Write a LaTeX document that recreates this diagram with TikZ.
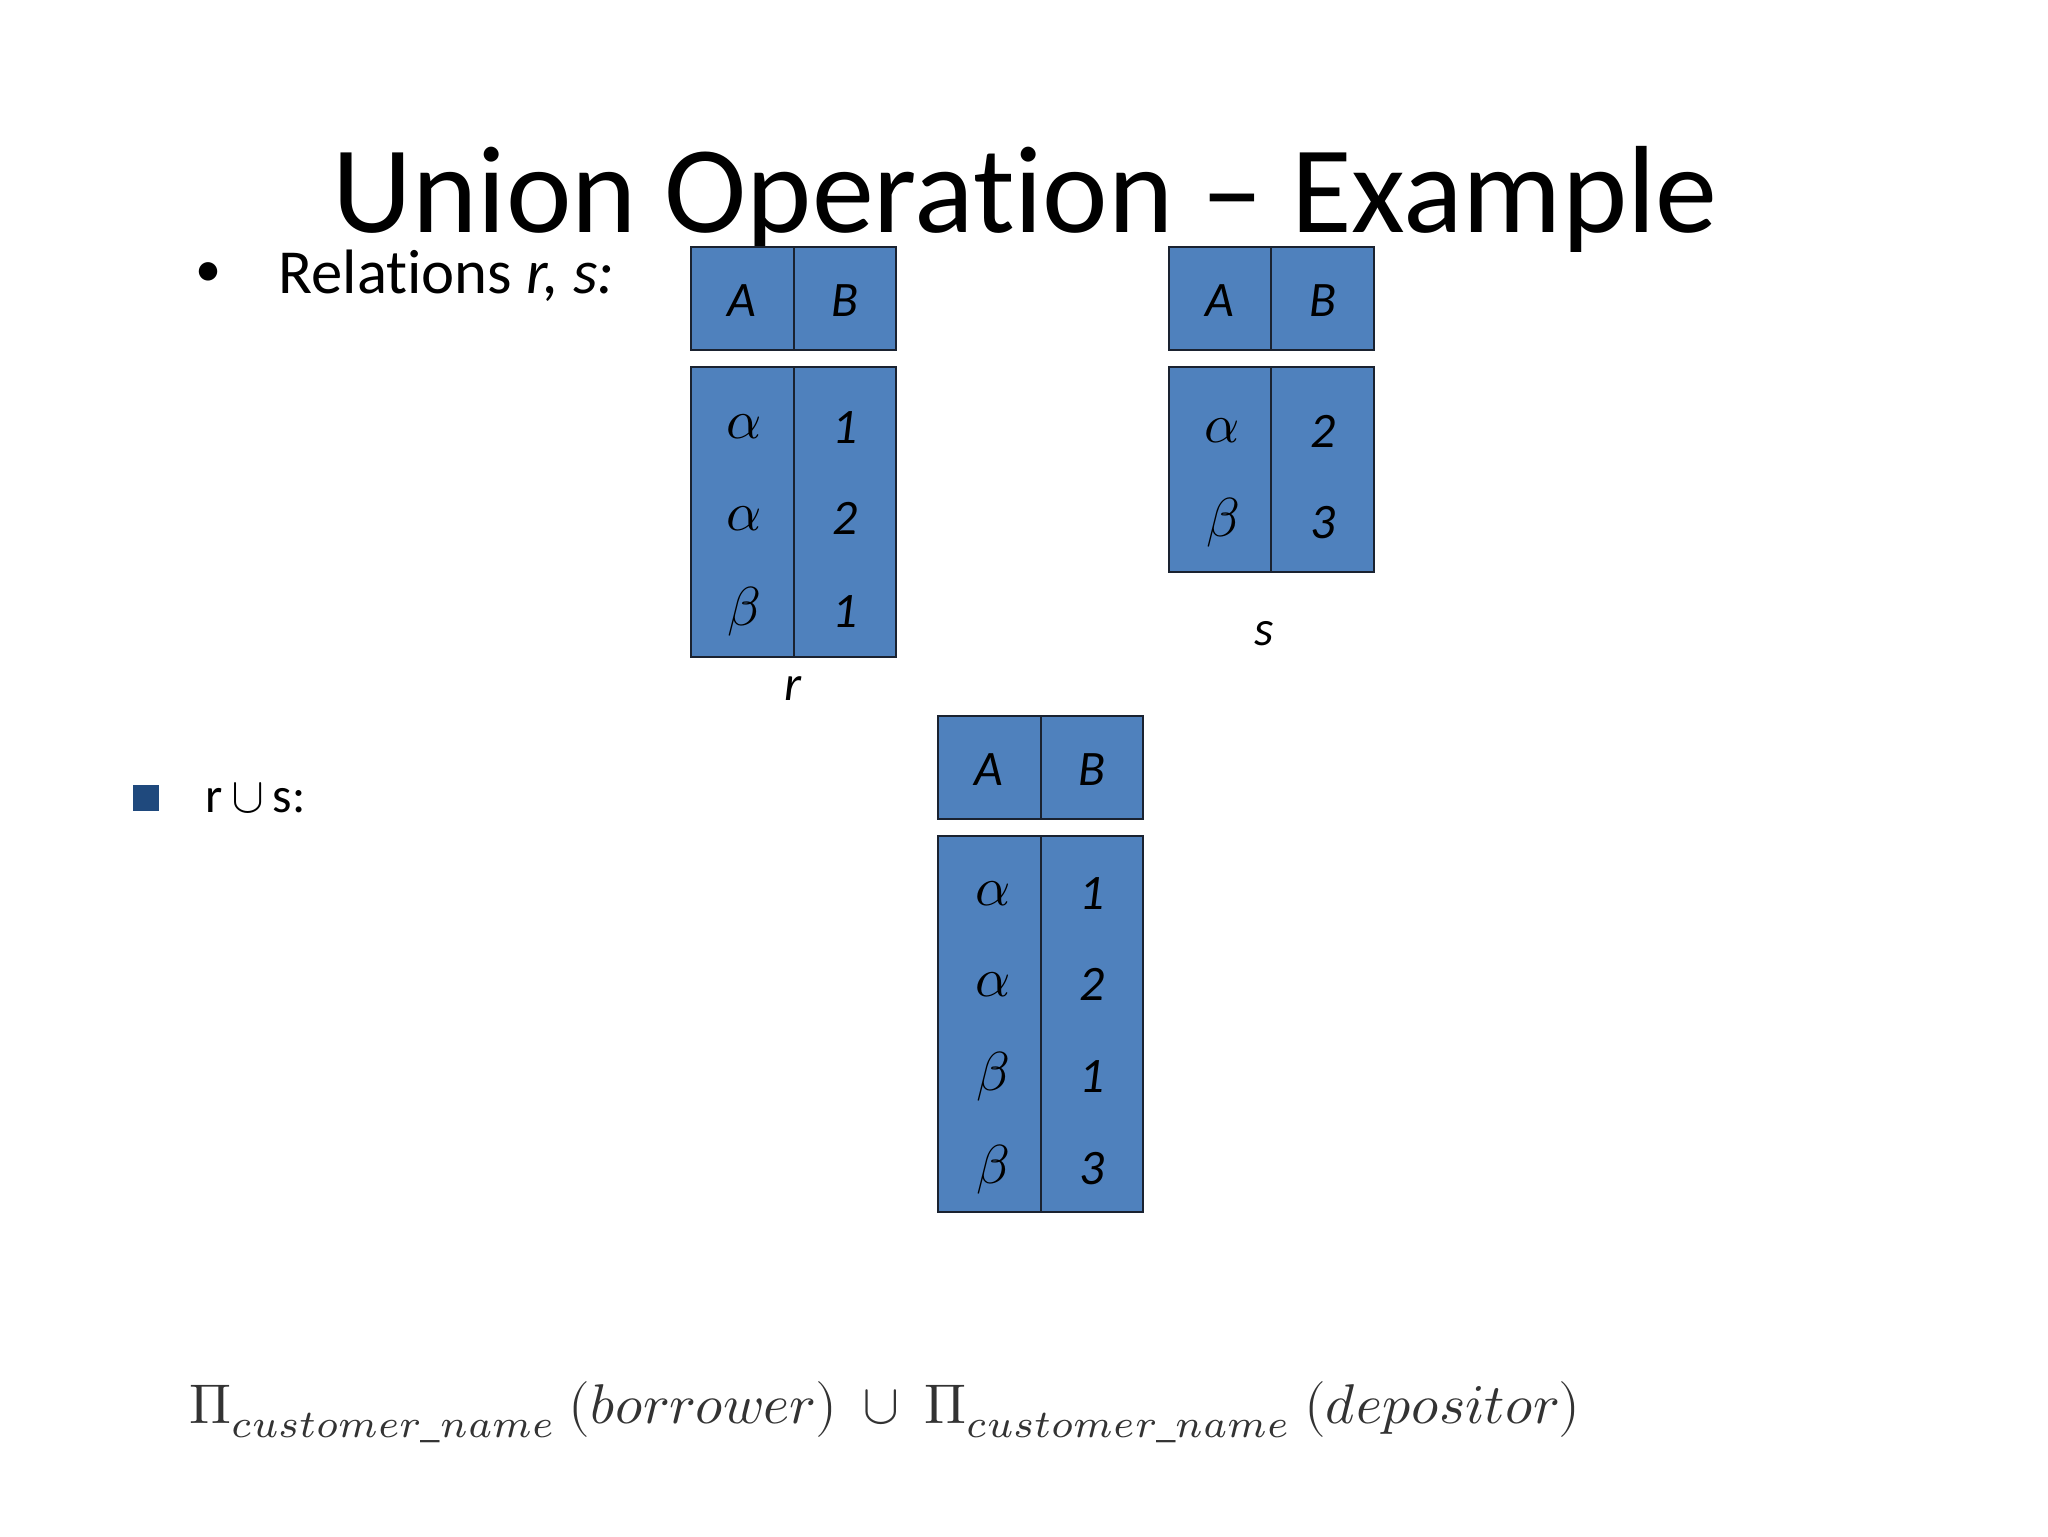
\documentclass[tikz,border=0pt]{standalone}
\usepackage{fontspec}
\usepackage{unicode-math}
\usepackage{graphicx}
\setmainfont{Carlito}[Ligatures=NoCommon]
\setsansfont{Carlito}
\setmathfont{Latin Modern Math}
\definecolor{cellblue}{HTML}{4F81BD}
\definecolor{bordc}{HTML}{1A2230}
\definecolor{sqblue}{HTML}{1F497D}
\tikzset{cell/.style={draw=bordc,fill=cellblue,line width=1.6pt},
 celltxt/.style={font=\fontsize{38}{40}\selectfont\itshape,anchor=center},
 grk/.style={font=\fontsize{42}{44}\selectfont,anchor=center}}
\begin{document}
\begin{tikzpicture}[x=1pt,y=-1pt]
\path[fill=white] (0,0) rectangle (1568,1176);
\useasboundingbox (0,0) rectangle (1568,1176);
\node[font=\fontsize{95}{105}\selectfont,anchor=base] (title) at (785,178) {Union Operation -- Example};
\node[font=\fontsize{40}{44}\selectfont] (bul) at (160,210) {•};
\node[font=\fontsize{48}{52}\selectfont,anchor=base west,inner sep=0pt] (rel) at (213,225) {Relations \textit{r, s:}};
% r table
\draw[cell] (529,189) rectangle (686,268);
\draw[cell] (529,281) rectangle (686,503);
\draw[bordc,line width=1.6pt] (608,189)--(608,268) (608,281)--(608,503);
\node[celltxt] (rA) at (568,230) {A};
\node[celltxt] (rB) at (647,230) {B};
\node[grk] (r1a) at (570,327) {$\alpha$}; \node[celltxt] (r1b) at (647,327) {1};
\node[grk] (r2a) at (570,397) {$\alpha$}; \node[celltxt] (r2b) at (647,397) {2};
\node[grk] (r3a) at (570,468) {$\beta$}; \node[celltxt] (r3b) at (647,468) {1};
\node[celltxt] (rl) at (607,527) {r};
% s table
\draw[cell] (895,189) rectangle (1052,268);
\draw[cell] (895,281) rectangle (1052,438);
\draw[bordc,line width=1.6pt] (973,189)--(973,268) (973,281)--(973,438);
\node[celltxt] (sA) at (934,230) {A};
\node[celltxt] (sB) at (1013,230) {B};
\node[grk] (s1a) at (936,330) {$\alpha$}; \node[celltxt] (s1b) at (1013,330) {2};
\node[grk] (s2a) at (936,400) {$\beta$}; \node[celltxt] (s2b) at (1013,400) {3};
\node[celltxt] (sl) at (968,485) {s};
% union
\node[fill=sqblue,minimum size=20pt,inner sep=0pt] (sq) at (112,611) {};
\node[font=\fontsize{38}{40}\selectfont,anchor=base west] (rus) at (154,622) {r\,$\cup$\,s:};
\draw[cell] (718,548) rectangle (875,627);
\draw[cell] (718,640) rectangle (875,928);
\draw[bordc,line width=1.6pt] (797,548)--(797,627) (797,640)--(797,928);
\node[celltxt] (uA) at (757,589) {A};
\node[celltxt] (uB) at (836,589) {B};
\node[grk] (u1a) at (760,684) {$\alpha$}; \node[celltxt] (u1b) at (836,684) {1};
\node[grk] (u2a) at (760,754) {$\alpha$}; \node[celltxt] (u2b) at (836,754) {2};
\node[grk] (u3a) at (760,824) {$\beta$}; \node[celltxt] (u3b) at (836,824) {1};
\node[grk] (u4a) at (760,895) {$\beta$}; \node[celltxt] (u4b) at (836,895) {3};
% formula
\node[anchor=base west,inner sep=0pt,text=black!80] (form) at (145,1090) {\resizebox{1065pt}{!}{$\Pi_{customer\_name}\ (borrower)\ \cup\ \Pi_{customer\_name}\ (depositor)$}};
\end{tikzpicture}
\end{document}
